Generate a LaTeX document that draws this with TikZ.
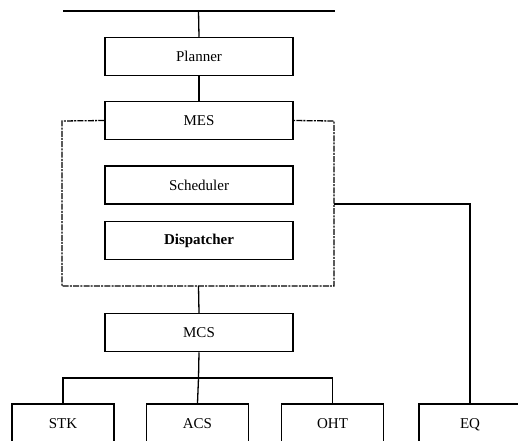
\documentclass[tikz,border=0pt]{standalone}
\usepackage{fontspec}
\setmainfont{Liberation Serif}
\begin{document}
\begin{tikzpicture}[x=1pt,y=-1pt,
  box/.style={draw,line width=1.5pt,minimum width=188pt,minimum height=38pt,inner sep=0pt,font=\fontsize{15}{17}\selectfont,fill=white},
  leaf/.style={draw,line width=1.5pt,minimum width=102pt,minimum height=40pt,inner sep=0pt,font=\fontsize{15}{17}\selectfont,anchor=north,text depth=0pt},
  conn/.style={line width=1.3pt},
  grp/.style={line width=1.3pt,dash pattern=on 6pt off 1.2pt on 2pt off 1.2pt}]
\useasboundingbox (0,0) rectangle (518,440);
% top bus
\coordinate (tl) at (63,11);
\coordinate (tr) at (335,11);
\coordinate (tm) at (198.5,11);
\draw[conn] (tl) -- (tr);
\node[box] (planner) at (199,56.5) {Planner};
\node[box] (mes) at (199,120.5) {MES};
\node[box] (sched) at (199,185) {Scheduler};
\node[box,font=\fontsize{15}{17}\selectfont\bfseries] (disp) at (199,240.5) {Dispatcher};
\node[box] (mcs) at (199,332.5) {MCS};
% group box
\coordinate (g1) at (62,121);
\coordinate (g2) at (62,286);
\coordinate (g3) at (334,286);
\coordinate (g4) at (334,121);
\coordinate (gb) at (198.5,286);
\coordinate (ge) at (334,204);
\draw[grp] (mes.west) -- (g1) -- (g2) -- (g3) -- (g4) -- (mes.east);
% leaves
\node[leaf] (stk) at (63,403) {STK};
\node[leaf] (acs) at (197.5,403) {ACS};
\node[leaf] (oht) at (332.5,403) {OHT};
\node[leaf] (eq) at (470,403) {EQ};
% connectors
\draw[conn] (tm) -- (planner.north);
\draw[conn] (planner.south) -- (mes.north);
\draw[conn] (gb) -- (mcs.north);
\coordinate (bus) at (198.5,378);
\draw[conn] (mcs.south) -- (bus);
\draw[conn] (stk.north) |- (bus) -| (oht.north);
\draw[conn] (bus) -- (acs.north);
\draw[conn] (ge) -| (eq.north);
\end{tikzpicture}
\end{document}
